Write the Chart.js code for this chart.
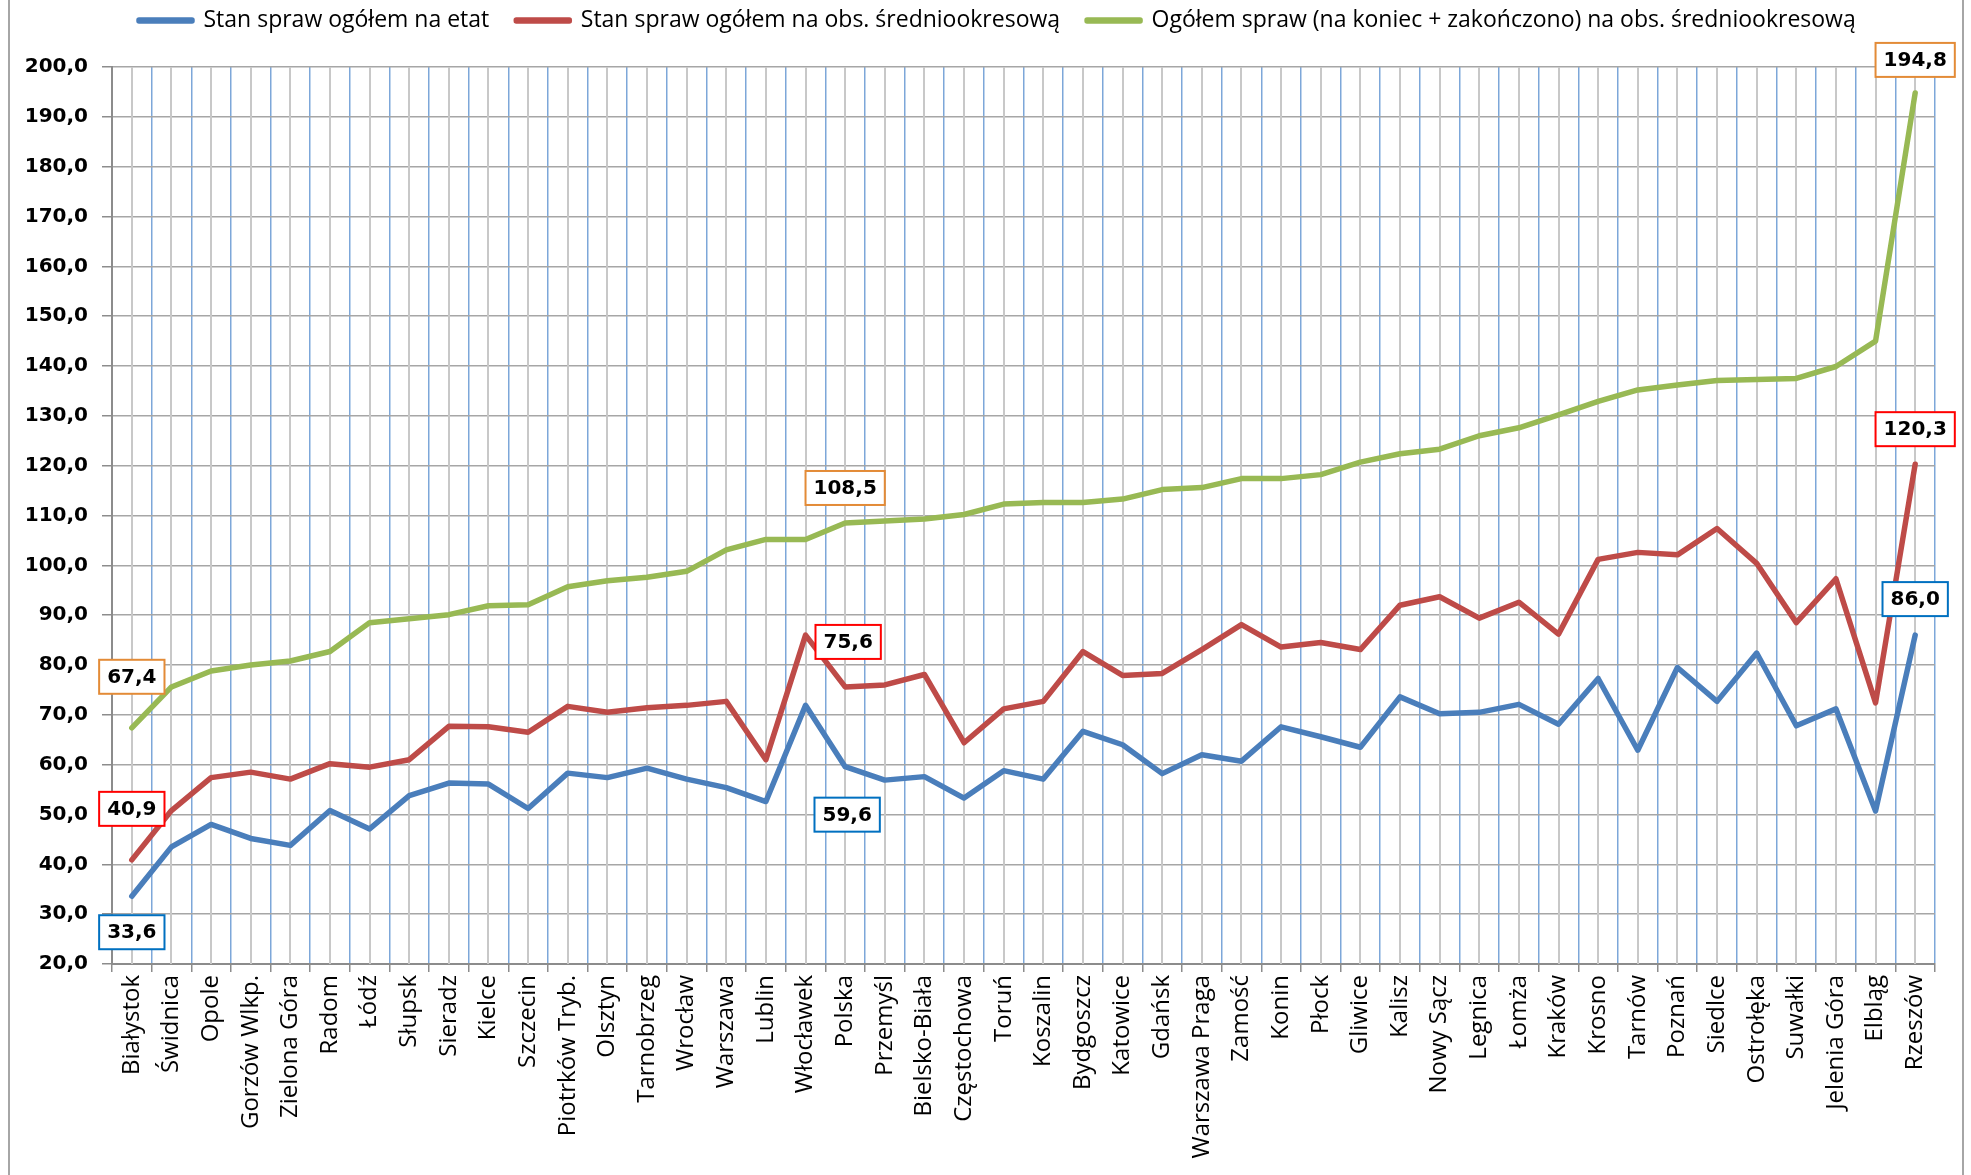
<!DOCTYPE html>
<html lang="pl">
<head>
<meta charset="utf-8">
<title>Stan spraw</title>
<script src="https://cdn.jsdelivr.net/npm/chart.js@4.4.1/dist/chart.umd.min.js"></script>
<style>
    html, body { margin: 0; padding: 0; background: #fff; }
    #wrap { position: relative; width: 1971px; height: 1175px; }
    .frame { position: absolute; top: 0; width: 2px; height: 1175px; background: #a6a6a6; }
</style>
</head>
<body>
<div id="wrap">
    <canvas id="chart" width="1971" height="1175"></canvas>
    <div class="frame" style="left: 8px;"></div>
    <div class="frame" style="left: 1962px;"></div>
</div>
<script>
const courts = ['Białystok', 'Świdnica', 'Opole', 'Gorzów Wlkp.', 'Zielona Góra', 'Radom', 'Łódź', 'Słupsk',
    'Sieradz', 'Kielce', 'Szczecin', 'Piotrków Tryb.', 'Olsztyn', 'Tarnobrzeg', 'Wrocław', 'Warszawa', 'Lublin',
    'Włocławek', 'Polska', 'Przemyśl', 'Bielsko-Biała', 'Częstochowa', 'Toruń', 'Koszalin', 'Bydgoszcz',
    'Katowice', 'Gdańsk', 'Warszawa Praga', 'Zamość', 'Konin', 'Płock', 'Gliwice', 'Kalisz', 'Nowy Sącz',
    'Legnica', 'Łomża', 'Kraków', 'Krosno', 'Tarnów', 'Poznań', 'Siedlce', 'Ostrołęka', 'Suwałki',
    'Jelenia Góra', 'Elbląg', 'Rzeszów'];

const perPost = [33.6, 43.5, 48.0, 45.2, 43.8, 50.8, 47.1, 53.8, 56.3, 56.1, 51.2, 58.3, 57.4, 59.3, 57.1, 55.4,
    52.6, 71.9, 59.6, 56.9, 57.6, 53.3, 58.8, 57.1, 66.7, 64.0, 58.2, 62.0, 60.7, 67.6, 65.6, 63.5, 73.6, 70.2,
    70.5, 72.1, 68.1, 77.3, 62.9, 79.5, 72.7, 82.4, 67.8, 71.2, 50.7, 86.0];

const perAvgStaff = [40.9, 50.8, 57.4, 58.5, 57.1, 60.2, 59.5, 61.0, 67.7, 67.6, 66.5, 71.7, 70.5, 71.4, 71.9,
    72.7, 61.0, 86.0, 75.6, 76.0, 78.1, 64.4, 71.2, 72.7, 82.7, 77.9, 78.3, 83.1, 88.1, 83.6, 84.5, 83.1, 92.0,
    93.7, 89.4, 92.6, 86.2, 101.2, 102.6, 102.1, 107.4, 100.4, 88.5, 97.3, 72.4, 120.3];

const totalPerAvgStaff = [67.4, 75.6, 78.8, 80.0, 80.8, 82.7, 88.5, 89.3, 90.1, 91.9, 92.1, 95.7, 96.9, 97.6,
    98.8, 103.1, 105.2, 105.2, 108.5, 108.9, 109.3, 110.2, 112.3, 112.6, 112.6, 113.3, 115.2, 115.6, 117.4,
    117.4, 118.2, 120.7, 122.4, 123.3, 126.0, 127.6, 130.2, 132.9, 135.2, 136.2, 137.1, 137.3, 137.5, 139.9,
    145.0, 194.8];

const seriesNames = ['Stan spraw ogółem na etat', 'Stan spraw ogółem na obs. średniookresową',
    'Ogółem spraw (na koniec + zakończono) na obs. średniookresową'];

const yTicks = { min: 20, max: 200, step: 10 };

const fmt = v => v.toFixed(1).replace('.', ',');

// boxed value labels: which point gets one and where the box sits
const calloutSpots = [
    { ds: 2, idx: 0, dx: 0, dy: -51, border: '#e38b37' },
    { ds: 1, idx: 0, dx: 0, dy: -51, border: '#ff0000' },
    { ds: 0, idx: 0, dx: 0, dy: 36, border: '#0070c0' },
    { ds: 2, idx: 18, dx: 0, dy: -35, border: '#e38b37' },
    { ds: 1, idx: 18, dx: 3, dy: -45, border: '#ff0000' },
    { ds: 0, idx: 18, dx: 2, dy: 48, border: '#0070c0' },
    { ds: 2, idx: 45, dx: 0, dy: -33, border: '#e38b37' },
    { ds: 1, idx: 45, dx: 0, dy: -35, border: '#ff0000' },
    { ds: 0, idx: 45, dx: 0, dy: -36, border: '#0070c0' },
];

// gray lines through the middle of every category
const centerLines = {
    id: 'centerLines',
    beforeDatasetsDraw(chart) {
        const { ctx, chartArea, scales } = chart;
        ctx.save();
        ctx.strokeStyle = '#c8c8c8';
        ctx.lineWidth = 2;
        courts.forEach((c, i) => {
            const x = Math.round(scales.x.getPixelForValue(i));
            ctx.beginPath();
            ctx.moveTo(x, chartArea.top);
            ctx.lineTo(x, chartArea.bottom);
            ctx.stroke();
        });
        ctx.restore();
    }
};

const callouts = {
    id: 'callouts',
    afterDatasetsDraw(chart) {
        const { ctx } = chart;
        ctx.save();
        ctx.font = 'bold 20px "DejaVu Sans"';
        ctx.textAlign = 'center';
        ctx.textBaseline = 'middle';
        calloutSpots.forEach(s => {
            const pt = chart.getDatasetMeta(s.ds).data[s.idx];
            const text = fmt(chart.data.datasets[s.ds].data[s.idx]);
            const w = ctx.measureText(text).width + 16;
            const h = 34;
            const cx = pt.x + s.dx;
            const cy = pt.y + s.dy;
            ctx.fillStyle = '#fff';
            ctx.fillRect(cx - w / 2, cy - h / 2, w, h);
            ctx.strokeStyle = s.border;
            ctx.lineWidth = 2;
            ctx.strokeRect(cx - w / 2, cy - h / 2, w, h);
            ctx.fillStyle = '#000';
            ctx.fillText(text, cx, cy + 1);
        });
        ctx.restore();
    }
};

const lineStyle = color => ({
    borderColor: color,
    backgroundColor: color,
    borderWidth: 5.5,
    pointRadius: 0,
    tension: 0,
    borderJoinStyle: 'round',
    borderCapStyle: 'round',
});

new Chart(document.getElementById('chart'), {
    type: 'line',
    data: {
        labels: courts,
        datasets: [
            { label: seriesNames[0], data: perPost, ...lineStyle('#4a7ebb') },
            { label: seriesNames[1], data: perAvgStaff, ...lineStyle('#be4b48') },
            { label: seriesNames[2], data: totalPerAvgStaff, ...lineStyle('#98b954') },
        ]
    },
    options: {
        responsive: false,
        animation: false,
        layout: { padding: { top: -18, right: 36, bottom: 0, left: 0 } },
        plugins: {
            legend: {
                position: 'top',
                fullSize: false,
                align: 'start',
                labels: {
                    font: { family: '"Open Sans"', size: 23 },
                    color: '#000',
                    boxWidth: 53,
                    boxHeight: 1,
                    padding: 27,
                }
            },
            // empty spacer under the legend
            title: {
                display: true,
                text: '',
                weight: 500,
                font: { size: 10, lineHeight: 1 },
                padding: { top: 0, bottom: 15 },
            },
            tooltip: { enabled: false },
        },
        scales: {
            x: {
                offset: true,
                afterFit: s => { s.height = 211; },
                grid: {
                    offset: true,
                    color: '#7da7d9',
                    lineWidth: 1.5,
                    tickColor: '#8c8c8c',
                    tickLength: 8,
                },
                border: { color: '#8c8c8c', width: 2 },
                ticks: {
                    autoSkip: false,
                    minRotation: 90,
                    maxRotation: 90,
                    padding: 3,
                    color: '#000',
                    font: { family: '"Open Sans"', size: 24 },
                }
            },
            y: {
                min: yTicks.min,
                max: yTicks.max,
                afterFit: s => { s.width = 112; },
                grid: {
                    color: '#a6a6a6',
                    lineWidth: 1.5,
                    tickColor: '#8c8c8c',
                    tickLength: 10,
                },
                border: { color: '#8c8c8c', width: 2 },
                ticks: {
                    stepSize: yTicks.step,
                    padding: 14,
                    color: '#000',
                    font: { family: '"DejaVu Sans"', size: 20, weight: 'bold' },
                    callback: v => fmt(v),
                }
            }
        }
    },
    plugins: [centerLines, callouts]
});
</script>
</body>
</html>
